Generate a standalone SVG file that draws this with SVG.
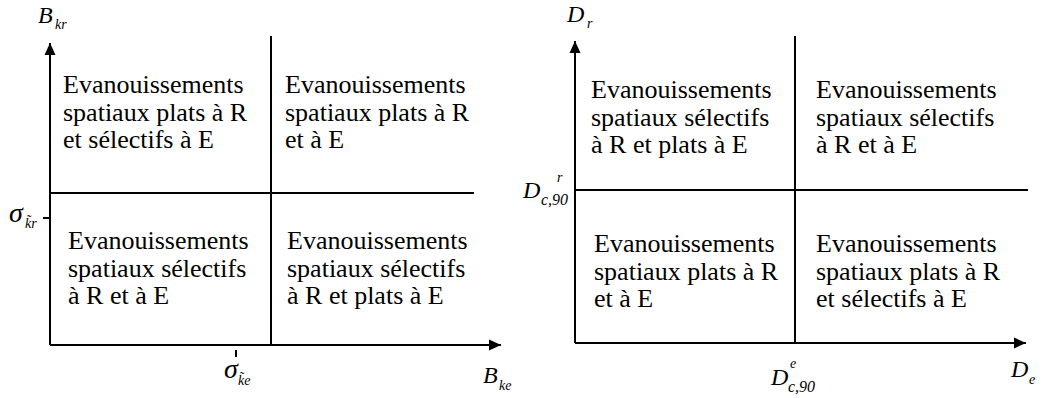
<svg xmlns="http://www.w3.org/2000/svg" width="1042" height="398" viewBox="0 0 1042 398">
<style>
.ln{stroke:#000;stroke-width:2;fill:none}
text{font-family:'Liberation Serif','Times New Roman',serif;fill:#000}
.t{font-size:26px}
.v{font-style:italic;font-size:24px}
.s{font-style:italic;font-size:14px}
.c{font-style:italic;font-size:16px}
.g{font-style:italic;font-size:28px}
</style>
<defs>
<marker id="ah" markerWidth="12" markerHeight="12" refX="12" refY="6" orient="auto" markerUnits="userSpaceOnUse">
<path d="M0,0.5 L12,6 L0,11.5 Z" fill="#000"/>
</marker>
</defs>
<rect width="1042" height="398" fill="#fff"/>
<g id="connectors">
<line class="ln" x1="50" y1="345" x2="50" y2="43" marker-end="url(#ah)"/>
<line class="ln" x1="50" y1="345" x2="501" y2="345" marker-end="url(#ah)"/>
<line class="ln" x1="50" y1="193" x2="474" y2="193"/>
<line class="ln" x1="271" y1="36" x2="271" y2="345"/>
<line class="ln" x1="43" y1="218" x2="50" y2="218"/>
<line class="ln" x1="236" y1="350" x2="236" y2="357"/>
<line class="ln" x1="575" y1="343" x2="575" y2="41" marker-end="url(#ah)"/>
<line class="ln" x1="575" y1="343" x2="1026" y2="343" marker-end="url(#ah)"/>
<line class="ln" x1="575" y1="190" x2="1028" y2="190"/>
<line class="ln" x1="795" y1="36" x2="795" y2="343"/>
</g>
<g id="axis-labels-left">
<text class="v" x="38" y="23">B</text><text class="s" x="55" y="29">kr</text>
<text class="g" x="9" y="222">σ</text><text class="s" x="25" y="228">k̃r</text>
<text class="g" x="224" y="378">σ</text><text class="s" x="238" y="385">k̃e</text>
<text class="v" x="483" y="383">B</text><text class="s" x="499" y="390">ke</text>
</g>
<g id="axis-labels-right">
<text class="v" x="567" y="22">D</text><text class="s" x="587" y="28">r</text>
<text class="v" x="523" y="198">D</text><text class="s" x="557" y="182">r</text><text class="c" x="541" y="205">c,90</text>
<text class="v" x="771" y="385">D</text><text class="s" x="790" y="368">e</text><text class="c" x="788" y="392">c,90</text>
<text class="v" x="1011" y="377">D</text><text class="s" x="1029" y="384">e</text>
</g>
<g id="left-top-left">
<text class="t" x="63" y="93">Evanouissements</text>
<text class="t" x="63" y="120.5">spatiaux plats à R</text>
<text class="t" x="63" y="148">et sélectifs à E</text>
</g>
<g id="left-top-right">
<text class="t" x="285" y="93">Evanouissements</text>
<text class="t" x="285" y="120.5">spatiaux plats à R</text>
<text class="t" x="285" y="148">et à E</text>
</g>
<g id="left-bottom-left">
<text class="t" x="68" y="249">Evanouissements</text>
<text class="t" x="68" y="276.5">spatiaux sélectifs</text>
<text class="t" x="68" y="304">à R et à E</text>
</g>
<g id="left-bottom-right">
<text class="t" x="287" y="249">Evanouissements</text>
<text class="t" x="287" y="276.5">spatiaux sélectifs</text>
<text class="t" x="287" y="304">à R et plats à E</text>
</g>
<g id="right-top-left">
<text class="t" x="591" y="98">Evanouissements</text>
<text class="t" x="591" y="125.5">spatiaux sélectifs</text>
<text class="t" x="591" y="153">à R et plats à E</text>
</g>
<g id="right-top-right">
<text class="t" x="816" y="98">Evanouissements</text>
<text class="t" x="816" y="125.5">spatiaux sélectifs</text>
<text class="t" x="816" y="153">à R et à E</text>
</g>
<g id="right-bottom-left">
<text class="t" x="594" y="252">Evanouissements</text>
<text class="t" x="594" y="279.5">spatiaux plats à R</text>
<text class="t" x="594" y="307">et à E</text>
</g>
<g id="right-bottom-right">
<text class="t" x="816" y="252">Evanouissements</text>
<text class="t" x="816" y="279.5">spatiaux plats à R</text>
<text class="t" x="816" y="307">et sélectifs à E</text>
</g>
</svg>
